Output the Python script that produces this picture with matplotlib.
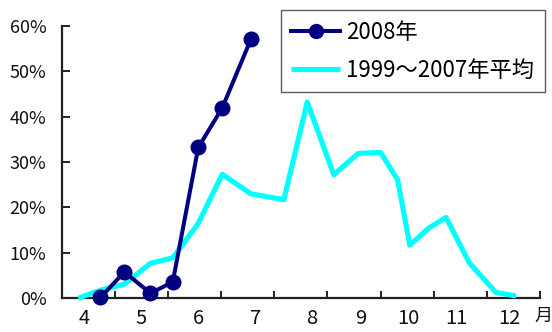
import matplotlib
matplotlib.use("Agg")
import matplotlib.pyplot as plt
from matplotlib.ticker import FuncFormatter

plt.rcParams['font.family'] = ['Liberation Sans Narrow', 'Noto Sans CJK JP', 'DejaVu Sans']

# Survey dates expressed as fractional months
x_2008 = [4.23, 4.68, 5.17, 5.59, 6.07, 6.52, 7.06]
y_2008 = [0.2, 5.8, 1.1, 3.6, 33.2, 41.9, 57.0]

x_avg = [3.81, 4.23, 4.68, 5.17, 5.59, 6.07, 6.52, 7.06, 7.68, 8.12,
         8.62, 9.08, 9.50, 9.82, 10.05, 10.40, 10.73, 11.17, 11.67, 12.05]
y_avg = [0.0, 1.8, 3.1, 7.7, 8.9, 16.5, 27.3, 23.0, 21.7, 43.2,
         27.2, 31.9, 32.1, 26.1, 11.7, 15.4, 17.8, 7.8, 1.3, 0.5]

series_labels = ["2008年", "1999～2007年平均"]
month_labels = ["4", "5", "6", "7", "8", "9", "10", "11", "12"]
month_label_pos = [3.92, 4.99, 6.07, 7.14, 8.20, 9.13, 10.02, 10.93, 11.92]
y_ticks = [0, 10, 20, 30, 40, 50, 60]

fig = plt.figure(figsize=(5.52, 3.32), dpi=100)
ax = fig.add_axes([61.7 / 552, 1 - 298.3 / 332, (540 - 61.7) / 552, (298.3 - 25.7) / 332])

navy = "#000080"
cyan = "#00FFFF"

ax.plot(x_2008, y_2008, color=navy, lw=2.9, marker="o", ms=10.5,
        solid_joinstyle="round", clip_on=False, zorder=5, label=series_labels[0])
ax.plot(x_avg, y_avg, color=cyan, lw=3.7, solid_joinstyle="round",
        solid_capstyle="butt", clip_on=False, zorder=4, label=series_labels[1])

ax.set_xlim(3.5, 12.5)
ax.set_ylim(0, 60)

for s in ("top", "right"):
    ax.spines[s].set_visible(False)
for s in ("left", "bottom"):
    ax.spines[s].set_color("#222222")
    ax.spines[s].set_linewidth(1.6)

# Month boundary ticks without labels; labels placed separately
ax.set_xticks([3.5 + i for i in range(10)])
ax.set_xticklabels([])
ax.tick_params(axis="x", which="major", direction="in", length=5, width=1.4, color="#222222")
ax.set_xticks(month_label_pos, minor=True)
ax.set_xticklabels(month_labels, minor=True, fontsize=14.5, color="#111111")
ax.tick_params(axis="x", which="minor", length=0, pad=7)

ax.set_yticks(y_ticks)
ax.yaxis.set_major_formatter(FuncFormatter(lambda v, p: f"{v:.0f}%"))
ax.tick_params(axis="y", direction="in", length=6, width=1.4, color="#222222",
               labelsize=13, labelcolor="#111111", pad=11)

fig.text(552 / 552, 1 - 316 / 332, "月", fontsize=13, color="#111111",
         ha="right", va="center", family=["Noto Sans CJK JP", "DejaVu Sans"])

leg = ax.legend(loc="upper left", bbox_to_anchor=(280.7 / 552, 1 - 10 / 332),
                bbox_transform=fig.transFigure, frameon=True, fancybox=False,
                handlelength=2.2, handletextpad=0.28, borderpad=0.48,
                labelspacing=0.67, borderaxespad=0,
                prop={"family": ["Noto Sans CJK JP", "DejaVu Sans"], "size": 16})
leg.get_frame().set_edgecolor("#333333")
leg.get_frame().set_linewidth(1.0)
for h in leg.legend_handles:
    h.set_markersize(10)

fig.savefig("out.png", dpi=100)
